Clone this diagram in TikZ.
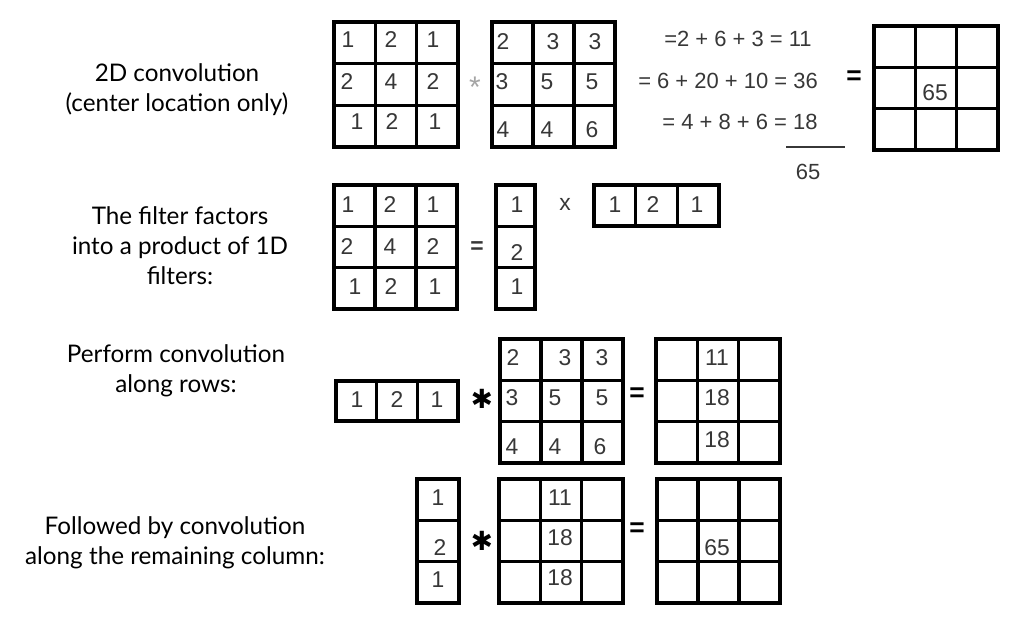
\documentclass[tikz,border=0pt]{standalone}
\usepackage{fontspec}
\setmainfont{Liberation Sans}
\newfontfamily\lblfont{Lato}
\newfontfamily\symfont{DejaVu Sans}
\usepackage{xcolor}
\definecolor{numgray}{RGB}{55,55,55}
\definecolor{stargray}{RGB}{165,165,165}
\usetikzlibrary{positioning}

% grid of cells: x0, y0, columns, rows, cell width, cell height
\newcommand{\cellgrid}[6]{%
  \foreach \ci in {1,...,#3}
    \foreach \cj in {1,...,#4}
      \draw[gridline] ({#1+(\ci-1)*#5},{#2+(\cj-1)*#6}) rectangle ++(#5,#6);
}

\tikzset{
  gridline/.style={line width=1.8pt, draw=black},
  num/.style={font=\fontsize{13}{15}\selectfont, text=numgray, inner sep=0pt},
  eqn/.style={font=\fontsize{12.5}{15}\selectfont, text=numgray, inner sep=0pt},
  lbl/.style={font=\lblfont\fontsize{13.8}{17}\selectfont, align=center, inner sep=0pt},
  opsign/.style={font=\bfseries\fontsize{15}{15}\selectfont, inner sep=0pt},
  bigstar/.style={font=\symfont\fontsize{15}{15}\selectfont, inner sep=0pt},
}

\begin{document}
\begin{tikzpicture}[x=0.02cm, y=-0.02cm]
  \useasboundingbox (0,0) rectangle (1024,618);

  % --- Row 1: 2D convolution ---
  \node[lbl] (lblconv) at (177,90) {2D convolution\\(center location only)};
  \cellgrid{334}{22}{3}{3}{41.33}{41.67}
  \foreach \x/\y/\t [count=\k] in {348/40/1, 391/40/2, 433/40/1,
      347/82/2, 391/82/4, 433/82/2, 357/122/1, 392/122/2, 435/122/1}
    \node[num] (fa\k) at (\x,\y) {\t};
  \node[font=\fontsize{17}{17}\selectfont, text=stargray, inner sep=0pt] (stara) at (475,87) {*};
  \cellgrid{492}{22}{3}{3}{41}{41.67}
  \foreach \x/\y/\t [count=\k] in {503/42/2, 553/42/3, 595/42/3,
      502/82/3, 547/82/5, 592/82/5, 503/130/4, 547/130/4, 592/130/6}
    \node[num] (ia\k) at (\x,\y) {\t};
  \node[eqn] (eqa) at (738,39) {=2 + 6 + 3 = 11};
  \node[eqn] (eqb) at (728,81) {= 6 + 20 + 10 = 36};
  \node[eqn] (eqc) at (740,122) {= 4 + 8 + 6 = 18};
  \draw[line width=1pt, numgray] (786,147) -- (845,147);
  \node[eqn] (sum) at (808,172) {65};
  \node[opsign] (eqsa) at (854,78) {=};
  \cellgrid{874}{26}{3}{3}{41.33}{41.33}
  \node[num] (outa) at (935,93) {65};

  % --- Row 2: separable filter ---
  \node[lbl] (lblsep) at (180,246) {The filter factors\\into a product of 1D\\filters:};
  \cellgrid{334}{185}{3}{3}{41}{41.33}
  \foreach \x/\y/\t [count=\k] in {348/205/1, 390/205/2, 433/205/1,
      347/247/2, 390/247/4, 433/247/2, 355/287/1, 391/287/2, 435/287/1}
    \node[num] (fb\k) at (\x,\y) {\t};
  \node[font=\bfseries\fontsize{13}{13}\selectfont, text=numgray, inner sep=0pt] (eqsb) at (477,248) {=};
  \cellgrid{496}{185}{1}{3}{39}{41.33}
  \foreach \x/\y/\t [count=\k] in {517/205/1, 517/253/2, 517/287/1}
    \node[num] (cb\k) at (\x,\y) {\t};
  \node[num] (times) at (565,204) {x};
  \cellgrid{594}{185}{3}{1}{41.67}{41}
  \foreach \x/\y/\t [count=\k] in {615/205/1, 653/205/2, 697/205/1}
    \node[num] (rb\k) at (\x,\y) {\t};

  % --- Row 3: convolution along rows ---
  \node[lbl] (lblrows) at (176,371) {Perform convolution\\along rows:};
  \cellgrid{336}{381}{3}{1}{40.67}{40}
  \foreach \x/\y/\t [count=\k] in {357/400/1, 397/400/2, 437/400/1}
    \node[num] (rc\k) at (\x,\y) {\t};
  \node[bigstar] (starc) at (482,399) {✱};
  \cellgrid{500}{339}{3}{3}{41}{41.33}
  \foreach \x/\y/\t [count=\k] in {513/358/2, 565/358/3, 602/358/3,
      512/398/3, 555/398/5, 602/398/5, 512/447/4, 555/447/4, 600/447/6}
    \node[num] (ic\k) at (\x,\y) {\t};
  \node[opsign] (eqsc) at (637,395) {=};
  \cellgrid{656}{339}{3}{3}{41.33}{41.33}
  \foreach \x/\y/\t [count=\k] in {717/358/11, 717/398/18, 717/440/18}
    \node[num] (oc\k) at (\x,\y) {\t};

  % --- Row 4: convolution along the column ---
  \node[lbl] (lblcol) at (175,543) {Followed by convolution\\along the remaining column:};
  \cellgrid{417}{479}{1}{3}{42}{41.33}
  \foreach \x/\y/\t [count=\k] in {438/498/1, 440/548/2, 438/580/1}
    \node[num] (cd\k) at (\x,\y) {\t};
  \node[bigstar] (stard) at (482,541) {✱};
  \cellgrid{499}{479}{3}{3}{41.33}{41.33}
  \foreach \x/\y/\t [count=\k] in {560/498/11, 560/538/18, 560/578/18}
    \node[num] (id\k) at (\x,\y) {\t};
  \node[opsign] (eqsd) at (637,530) {=};
  \cellgrid{657}{479}{3}{3}{41}{41.33}
  \node[num] (outd) at (717,548) {65};
\end{tikzpicture}
\end{document}
